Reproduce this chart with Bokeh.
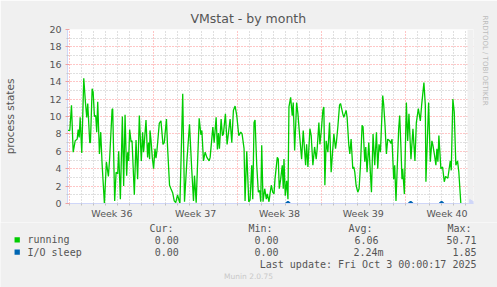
import math
from bokeh.plotting import figure
from bokeh.models import Range1d, FixedTicker, Grid, Title
from bokeh.layouts import column
from bokeh.core.properties import value
from bokeh.embed import file_html
from bokeh.resources import INLINE

# ---------------- data ----------------
title_text = "VMstat - by month"
y_label = "process states"
week_labels = ["Week 36", "Week 37", "Week 38", "Week 39", "Week 40"]
week_starts = [0, 168, 336, 504, 672]          # hours since Mon Sep 1 00:00
week_centers = [84, 252, 420, 588, 756]
day_ticks = [24 * d for d in range(0, 34)]
y_major = list(range(0, 21, 2))
y_minor = list(range(1, 20, 2))

# running processes (hours since Sep 1, value)
hours = [-4.4, -0.4, 3, 6.4, 10.4, 14.4, 16.4, 18.4, 20.4, 23.6,
         27.6, 31, 33.6, 35.6, 39.6, 41, 44.4, 46.4, 49, 51.6,
         53.6, 55.6, 59, 61.6, 64.4, 69, 73, 77, 79.6, 84.4,
         85.6, 89.6, 92.4, 95.6, 97.6, 101, 105, 107.6, 110.4, 113.6,
         115.6, 117.6, 119.6, 122.4, 124.4, 129, 132.4, 135.6, 139, 143,
         145.6, 147.6, 152.4, 155.6, 157.6, 159.6, 160.4, 162.4, 165, 167.6,
         170.4, 172.4, 174.4, 179, 182.4, 186.4, 189, 193.4, 195.6, 199.6,
         202.4, 206, 209, 212, 215.6, 218.4, 220.4, 226, 229.6, 234.4,
         239.6, 244, 247.6, 249.6, 253, 259, 262.4, 264.4, 267.6, 271,
         274.4, 279, 281, 286.4, 289, 293, 295.6, 297.6, 299.6, 303,
         305.6, 307.6, 311.6, 315, 321, 324.4, 327.6, 331, 334.4, 338.4,
         342.4, 345, 349, 351, 354.4, 358.4, 361, 364.4, 366.4, 369,
         371, 374.4, 377.6, 380.4, 382.4, 384.4, 387, 390.4, 393.6, 395.6,
         399, 401, 403.6, 406.4, 409, 411, 415.6, 417.6, 419.6, 422.4,
         425.6, 427.6, 429, 431.6, 434.4, 437, 439, 442.4, 445.6, 447.6,
         450.4, 454.4, 457, 461, 464.4, 467.6, 472.4, 474.4, 477, 481,
         483.6, 487, 490.4, 493.6, 495.6, 499, 501, 503.6, 507, 509,
         511, 513.6, 517, 520.4, 523.6, 529, 532.4, 534.4, 537, 540.4,
         542.4, 547, 549, 553.6, 555.6, 559, 561, 563.6, 567, 569,
         571, 573.6, 577, 579.6, 582.4, 585.6, 587.6, 591, 593, 595.6,
         599, 604.4, 607.6, 611, 614.4, 617, 619.6, 622.4, 627, 629,
         631.6, 634.4, 637, 641, 643.6, 645.6, 649, 651, 653.6, 659,
         661, 663.6, 665.6, 667, 670.4, 674.4, 677, 679.6, 683.6, 687.6,
         691.6, 694.4, 698.4, 702.4, 705, 709.6, 712.4, 713.6, 717, 719,
         722.4, 725.6, 727.6, 731, 733.6, 735.6, 737.6, 739.6, 743.6, 747,
         750.4, 753, 757.6, 762.4, 764.4, 767.6, 770.4, 773.6, 777, 779.6,
         783.6]
running = [8.4, 8.4, 11.3, 5.9, 7.2, 7.4, 8.5, 7.6, 9.9, 5.8,
           14.4, 11.6, 9.9, 11.5, 7.0, 7.0, 13.2, 12.8, 10.0, 10.1,
           8.2, 11.7, 5.7, 8.2, 4.5, 0.0, 4.8, 3.1, 5.3, 10.8,
           10.9, 0.3, 3.6, 3.4, 6.0, 0.5, 10.0, 2.0, 10.2, 3.2,
           5.9, 4.9, 8.5, 7.1, 7.2, 1.0, 7.3, 2.8, 10.1, 4.9,
           8.2, 5.9, 9.6, 5.3, 7.0, 5.1, 8.4, 7.3, 5.3, 4.0,
           6.3, 5.2, 6.1, 9.2, 9.5, 6.8, 7.0, 9.7, 6.5, 2.1,
           1.7, 1.2, 0.3, 0.1, 1.0, 0.4, 0.0, 12.6, 0.2, 4.9,
           9.1, 4.0, 0.3, 3.2, 0.1, 9.8, 7.9, 8.4, 4.9, 5.9,
           5.3, 4.9, 5.3, 8.8, 7.0, 9.9, 6.2, 8.1, 6.3, 9.7,
           7.8, 8.0, 10.3, 6.8, 9.7, 7.0, 10.7, 11.2, 10.1, 7.8,
           8.2, 8.0, 6.3, 0.3, 6.0, 0.2, 0.4, 4.4, 0.5, 9.3,
           9.6, 4.4, 1.3, 1.5, 0.2, 6.7, 0.2, 1.7, 0.5, 1.1,
           0.2, 1.1, 2.1, 1.3, 1.1, 2.8, 5.3, 5.1, 1.7, 2.8,
           4.4, 1.7, 5.1, 0.9, 2.6, 0.5, 11.1, 12.2, 10.1, 11.6,
           6.1, 11.6, 10.3, 7.4, 5.1, 8.4, 4.4, 6.8, 4.2, 8.6,
           7.8, 4.4, 6.5, 5.1, 6.3, 9.3, 6.8, 8.2, 10.7, 11.1,
           2.1, 7.2, 5.9, 9.3, 3.6, 8.0, 6.3, 7.2, 8.8, 11.3,
           11.5, 10.3, 9.9, 10.7, 9.9, 6.7, 5.7, 7.4, 4.0, 4.2,
           3.6, 2.1, 1.3, 1.7, 4.4, 9.0, 8.8, 4.8, 6.5, 3.6,
           7.0, 1.3, 8.0, 4.4, 8.2, 4.0, 6.8, 5.9, 12.4, 11.3,
           9.0, 5.7, 7.4, 7.2, 6.9, 7.4, 2.8, 4.4, 0.3, 8.6,
           10.1, 6.3, 2.8, 4.0, 1.1, 11.6, 7.2, 10.3, 5.1, 8.6,
           4.9, 9.3, 10.9, 9.5, 11.3, 13.9, 11.3, 2.5, 8.2, 11.6,
           4.8, 7.2, 6.7, 5.5, 4.4, 6.3, 4.8, 7.8, 4.0, 4.2,
           2.5, 3.1, 2.9, 4.9, 3.8, 12.0, 10.5, 4.4, 4.9, 3.6,
           0.0]

# I/O sleep: only a few tiny blips above zero
io_hours = [433, 437, 441, float("nan"), 679, 683, 687, float("nan"), 741, 745, 749]
io_sleep = [0.0, 0.2, 0.0, float("nan"), 0.0, 0.2, 0.0, float("nan"), 0.0, 0.2, 0.0]

series_names = ["running", "I/O sleep"]
series_colors = ["#00CC00", "#0066B3"]
cur_vals = ["0.00", "0.00"]
min_vals = ["0.00", "0.00"]
avg_vals = ["6.06", "2.24m"]
max_vals = ["50.71", "1.85"]
last_update = "Last update: Fri Oct  3 00:00:17 2025"
munin_version = "Munin 2.0.75"
rrd_credit = "RRDTOOL / TOBI OETIKER"

# ---------------- styles ----------------
BG = "#F0F0F0"
AXIS = "#CFD6F8"
FONT = "#555555"
SANS = "DejaVu Sans"
MONO = "DejaVu Sans Mono"
X_END = 797        # end of the data window (hours)
X_ARROW = 809      # axis arrow tip (hours)

# ---------------- chart ----------------
p = figure(width=497, height=222, x_range=Range1d(-5, X_ARROW), y_range=Range1d(0, 20),
           output_backend="svg", toolbar_location=None,
           min_border_left=67, min_border_right=23, min_border_top=29, min_border_bottom=19,
           background_fill_color="white", border_fill_color=BG, outline_line_color=None)
p.frame_align = False

p.title.text = title_text
p.title.align = "left"
p.title.offset = 123
p.title.standoff = 8
p.title.text_font = SANS
p.title.text_font_size = "12.5px"
p.title.text_font_style = "normal"
p.title.text_color = FONT

credit = Title(text=rrd_credit, align="left", offset=-14, text_font=SANS,
               text_font_size="7px", text_font_style="normal", text_color="#BBBBBB",
               standoff=14)
p.add_layout(credit, "right")

# grids
p.xgrid.ticker = FixedTicker(ticks=[d for d in day_ticks if d not in week_starts])
p.xgrid.grid_line_color = "#C0C0C0"
p.xgrid.grid_line_dash = "1 2"
p.ygrid.ticker = FixedTicker(ticks=y_minor)
p.ygrid.grid_line_color = "#C0C0C0"
p.ygrid.grid_line_dash = "1 2"
p.add_layout(Grid(dimension=0, ticker=FixedTicker(ticks=week_starts),
                  grid_line_color="#FF0000", grid_line_alpha=0.45, grid_line_dash="1 2"))
p.add_layout(Grid(dimension=1, ticker=FixedTicker(ticks=y_major[1:]),
                  grid_line_color="#FF0000", grid_line_alpha=0.45, grid_line_dash="1 2"))

# axes
xa = p.xaxis[0]
xa.ticker = FixedTicker(ticks=week_centers, minor_ticks=day_ticks)
xa.major_label_overrides = {c: lab for c, lab in zip(week_centers, week_labels)}
xa.major_tick_in = 0
xa.major_tick_out = 0
xa.minor_tick_in = 0
xa.minor_tick_out = 2
xa.minor_tick_line_color = "#C0C0C0"
xa.axis_line_color = AXIS
xa.major_label_text_font = SANS
xa.major_label_text_font_size = "9.5px"
xa.major_label_text_color = FONT
xa.major_label_standoff = 2

ya = p.yaxis[0]
ya.ticker = FixedTicker(ticks=y_major, minor_ticks=y_minor)
ya.major_tick_in = 2
ya.major_tick_out = 2
ya.major_tick_line_color = "#F0A0A0"
ya.minor_tick_in = 1
ya.minor_tick_out = 1
ya.minor_tick_line_color = "#C8C8C8"
ya.axis_line_color = AXIS
ya.major_label_text_font = SANS
ya.major_label_text_font_size = "9.5px"
ya.major_label_text_color = FONT
ya.major_label_standoff = 4
ya.axis_label = y_label
ya.axis_label_text_font = SANS
ya.axis_label_text_font_size = "10.5px"
ya.axis_label_text_font_style = "normal"
ya.axis_label_text_color = FONT
ya.axis_label_standoff = 30

# grey margin to the right of the data window (the x axis runs on to its arrow)
p.quad(left=[X_END], right=[X_ARROW + 2], bottom=[0], top=[20], fill_color=BG, line_color=None)

# data lines
p.line(hours, running, line_color=series_colors[0], line_width=1.3)
p.line(io_hours, io_sleep, line_color=series_colors[1], line_width=2)

# arrow head at the end of the x axis
p.scatter(x=[X_ARROW - 3], y=[0], marker="triangle", size=8, angle=-math.pi / 2,
          fill_color=AXIS, line_color=AXIS)

# ---------------- legend block ----------------
q = figure(width=497, height=65, x_range=Range1d(0, 497), y_range=Range1d(65, 0),
           output_backend="svg", toolbar_location=None, x_axis_type=None, y_axis_type=None,
           min_border=0, background_fill_color=BG, border_fill_color=BG, outline_line_color=None)
q.frame_align = False
q.grid.visible = False

row_y = [17.4, 29.7]
q.rect(x=[16.7, 16.7], y=row_y, width=5.3, height=5.3, fill_color=series_colors, line_color=None)

q.text(x=[149, 248, 348, 447], y=[6] * 4, text=["Cur:", "Min:", "Avg:", "Max:"],
       text_font=value(MONO), text_font_size="10px", text_color=FONT,
       text_align="left", text_baseline="middle")
q.text(x=[27, 27], y=row_y, text=series_names,
       text_font=value(MONO), text_font_size="10px", text_color=FONT,
       text_align="left", text_baseline="middle")
vals = []
xs = []
ys = []
for i in range(2):
    avg_right = 383 if avg_vals[i].endswith("m") else 378
    for col_x, v in zip([178.3, 278, avg_right, 476],
                        [cur_vals[i], min_vals[i], avg_vals[i], max_vals[i]]):
        xs.append(col_x)
        ys.append(row_y[i])
        vals.append(v)
q.text(x=xs, y=ys, text=vals, text_font=value(MONO), text_font_size="10px",
       text_color=FONT, text_align="right", text_baseline="middle")
q.text(x=[482], y=[42], text=[last_update], text_font=value(MONO), text_font_size="10px",
       text_color=FONT, text_align="right", text_baseline="middle")
q.text(x=[248], y=[54], text=[munin_version], text_font=value(SANS), text_font_size="7.5px",
       text_color="#C8C8C8", text_align="center", text_baseline="middle")

layout = column(p, q, spacing=0)
open("out.html", "w").write(file_html(layout, INLINE))
